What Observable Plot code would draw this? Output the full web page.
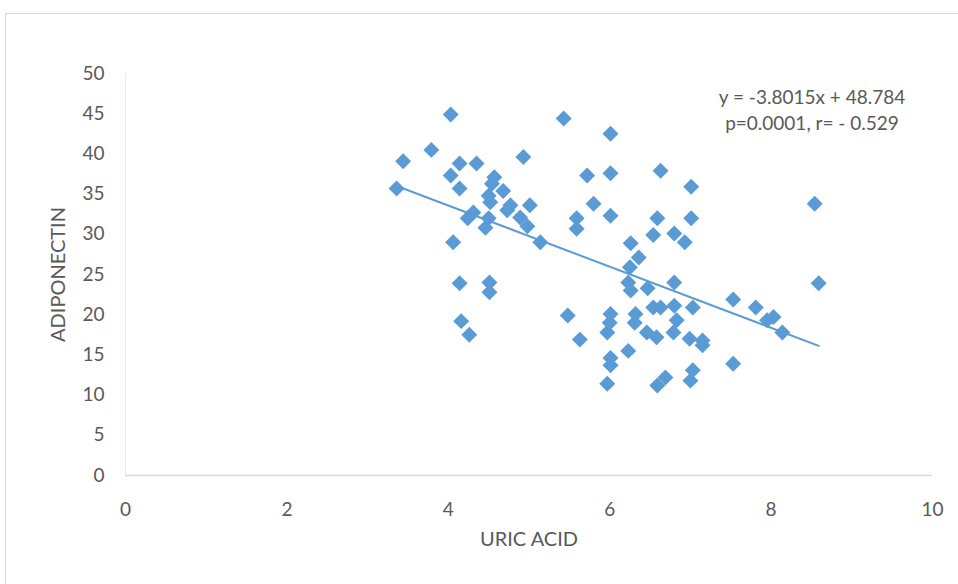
<!DOCTYPE html>
<html>
<head>
<meta charset="utf-8">
<script src="https://cdn.jsdelivr.net/npm/d3@7"></script>
<script src="https://cdn.jsdelivr.net/npm/@observablehq/plot@0.6"></script>
<style>
  html, body { margin: 0; padding: 0; background: #fff; overflow: hidden; }
  #wrap { position: relative; width: 958px; height: 584px; }
  #border { position: absolute; left: 5px; top: 13px; width: 1000px; height: 700px; border: 1px solid #d9d9d9; box-sizing: border-box; }
  #chart { position: absolute; left: 0; top: 0; }
</style>
</head>
<body>
<div id="wrap"><div id="border"></div><div id="chart"></div></div>
<script>
const uricAcid = [3.36,3.44,3.79,4.03,4.03,4.14,4.14,4.35,4.06,4.14,4.16,4.26,4.24,4.31,4.46,4.54,4.57,4.50,4.52,4.50,4.51,4.51,4.68,4.77,4.73,4.93,4.89,5.01,4.98,5.14,5.43,5.48,5.59,5.59,5.63,5.72,5.80,6.01,6.01,6.01,6.01,6.00,5.97,6.01,6.01,5.97,6.26,6.36,6.25,6.23,6.26,6.47,6.32,6.31,6.23,6.46,6.58,6.54,6.63,6.59,6.63,6.54,6.59,6.69,6.80,6.93,6.80,6.80,6.83,6.79,7.01,7.01,7.03,6.99,7.15,7.15,7.03,7.00,7.53,7.53,7.81,7.95,8.03,8.14,8.54,8.59];
const adiponectin = [35.7,39.1,40.5,44.9,37.3,38.8,35.7,38.8,29.0,23.9,19.2,17.5,32.0,32.7,30.8,36.3,37.1,34.8,34.0,32.0,24.0,22.8,35.4,33.6,33.0,39.6,32.1,33.6,31.0,29.0,44.4,19.9,32.0,30.7,16.9,37.3,33.8,42.5,37.6,32.3,20.1,19.0,17.8,14.6,13.7,11.4,28.9,27.1,25.9,24.0,23.0,23.3,20.1,19.0,15.5,17.8,17.2,20.9,20.9,32.0,37.9,29.9,11.2,12.2,30.1,29.0,24.0,21.1,19.3,17.8,35.9,32.0,20.9,17.0,16.8,16.2,13.1,11.8,21.9,13.9,20.9,19.3,19.7,17.8,33.8,23.9];
const xTicks = [0,2,4,6,8,10];
const yTicks = [0,5,10,15,20,25,30,35,40,45,50];
const slope = -3.8015, intercept = 48.784;
const equationLabel = "y = -3.8015x + 48.784";
const statsLabel = "p=0.0001, r= - 0.529";
const xTitle = "URIC ACID";
const yTitle = "ADIPONECTIN";

const points = uricAcid.map((x, i) => ({x, y: adiponectin[i]}));
const xMin = d3.min(uricAcid), xMax = d3.max(uricAcid);
const trend = [xMin, xMax].map(x => ({x, y: slope * x + intercept}));

const FONT = "Lato, 'Open Sans', sans-serif";
const GREY = "#595959";
const BLUE = "#5b9bd5";

const chart = Plot.plot({
  width: 958,
  height: 584,
  marginLeft: 125,
  marginRight: 26,
  marginTop: 73,
  marginBottom: 109,
  style: { fontFamily: FONT, fontSize: "19px", color: GREY, background: "transparent" },
  x: { domain: [0, 10] },
  y: { domain: [0, 50] },
  marks: [
    Plot.ruleX([0], { stroke: "#ebebeb", strokeWidth: 1 }),
    Plot.ruleY([0], { stroke: "#d9d9d9", strokeWidth: 1.5 }),
    Plot.axisX({ ticks: xTicks, tickSize: 0, tickPadding: 27, label: null, fill: GREY, fontSize: 19 }),
    Plot.axisY({ ticks: yTicks, tickSize: 0, tickPadding: 21, label: null, fill: GREY, fontSize: 19 }),
    Plot.line(trend, { x: "x", y: "y", stroke: BLUE, strokeWidth: 2 }),
    Plot.dot(points, { x: "x", y: "y", symbol: "diamond2", r: 7.2, fill: BLUE, stroke: "none" }),
    Plot.text([xTitle], { text: d => d, frameAnchor: "bottom", dy: 70, fill: GREY, fontSize: 20 }),
    Plot.text([yTitle], { text: d => d, frameAnchor: "left", textAnchor: "middle", rotate: -90, dx: -67, fill: GREY, fontSize: 20 }),
    Plot.text([equationLabel + "\n" + statsLabel], { text: d => d, frameAnchor: "top", dx: 283, dy: 12, lineAnchor: "top", lineHeight: 1.37, fill: GREY, fontSize: 19 })
  ]
});
document.getElementById("chart").appendChild(chart);
</script>
</body>
</html>
